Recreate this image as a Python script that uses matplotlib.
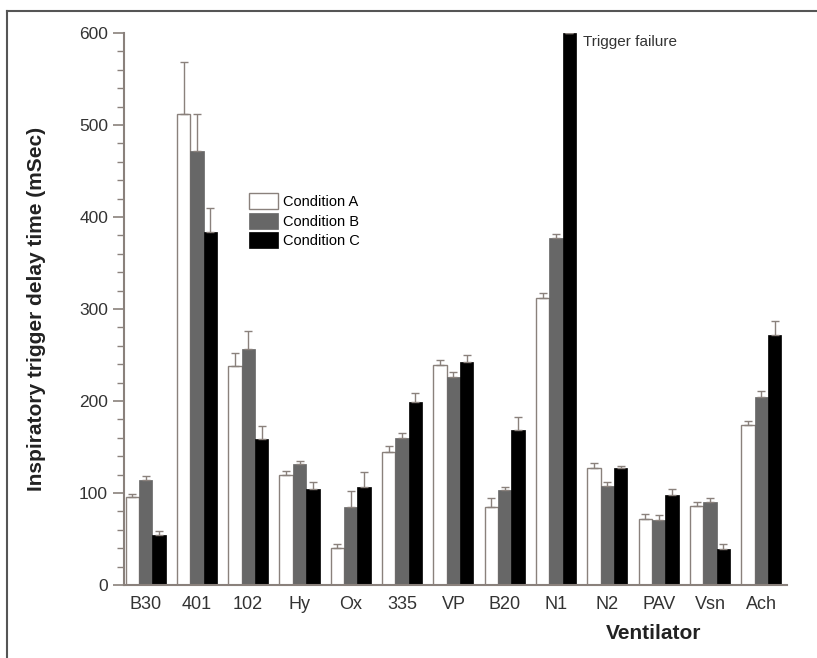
import numpy as np
import matplotlib
matplotlib.use('Agg')
import matplotlib.pyplot as plt
from matplotlib.lines import Line2D

plt.rcParams['font.family'] = ['Liberation Sans', 'DejaVu Sans']

ventilators = ['B30', '401', '102', 'Hy', 'Ox', '335', 'VP', 'B20', 'N1', 'N2', 'PAV', 'Vsn', 'Ach']
cond_a = [96, 512, 238, 120, 40, 145, 239, 85, 312, 127, 72, 86, 174]
cond_b = [114, 472, 257, 132, 85, 160, 226, 103, 377, 108, 71, 90, 204]
cond_c = [54, 384, 159, 104, 106, 199, 242, 169, 600, 127, 98, 39, 272]
err_a = [3, 56, 14, 4, 5, 6, 6, 10, 5, 6, 5, 4, 4]
err_b = [5, 40, 19, 3, 17, 5, 5, 4, 5, 4, 5, 5, 7]
err_c = [5, 26, 14, 8, 17, 10, 8, 14, 0, 2, 6, 6, 15]

fig = plt.figure(figsize=(8.17, 6.58), dpi=100)
ax = fig.add_axes([124 / 817, 73 / 658, 663 / 817, 552 / 658])

x = np.arange(len(ventilators))
w = 0.26
spine_col = '#8a817c'
err_kw = dict(ecolor=spine_col, elinewidth=1.0, capsize=3, capthick=1.0)

ax.bar(x - w, cond_a, w, color='white', edgecolor=spine_col, linewidth=1.0,
       yerr=[np.zeros(len(x)), err_a], error_kw=err_kw, label='Condition A')
ax.bar(x, cond_b, w, color='#676767', edgecolor='#676767', linewidth=0.5,
       yerr=[np.zeros(len(x)), err_b], error_kw=err_kw, label='Condition B')
ax.bar(x + w, cond_c, w, color='black', edgecolor='black', linewidth=0.5,
       yerr=[np.zeros(len(x)), err_c], error_kw=err_kw, label='Condition C')

ax.text(8 + 0.53, 590, 'Trigger failure', fontsize=11, color='#333333', va='center', ha='left')

ax.set_xlim(-0.42, 12.5)
ax.set_ylim(0, 600)
ax.set_yticks(range(0, 601, 100))
ax.set_yticks(range(0, 601, 20), minor=True)
ax.set_xticks(x)
ax.set_xticklabels(ventilators)
ax.tick_params(axis='x', length=0, labelsize=13, pad=8, colors='#333333')
ax.tick_params(axis='y', which='major', length=8, width=1.2, color=spine_col, labelsize=12.5, labelcolor='#333333')
ax.tick_params(axis='y', which='minor', length=5, width=1.0, color=spine_col)

for s in ['top', 'right']:
    ax.spines[s].set_visible(False)
for s in ['left', 'bottom']:
    ax.spines[s].set_color(spine_col)
    ax.spines[s].set_linewidth(1.5)

ax.set_ylabel('Inspiratory trigger delay time (mSec)', fontsize=15, fontweight='bold', color='#222222')
ax.yaxis.set_label_coords(-0.118, 0.5)
ax.set_xlabel('Ventilator', fontsize=15, fontweight='bold', color='#222222')
ax.xaxis.set_label_coords(0.799, -0.07)

ax.legend(loc='upper left', bbox_to_anchor=(0.18, 0.72), frameon=False, fontsize=10.5,
          handlelength=2.0, handleheight=1.3, handletextpad=0.3, labelspacing=0.25, borderaxespad=0)

# image frame (top and left edges)
fig.add_artist(Line2D([7 / 817, 7 / 817], [0, 1 - 11 / 658], color='#555555', lw=1.5))
fig.add_artist(Line2D([7 / 817, 1], [1 - 11 / 658, 1 - 11 / 658], color='#555555', lw=1.5))

plt.savefig('out.png', dpi=100)
